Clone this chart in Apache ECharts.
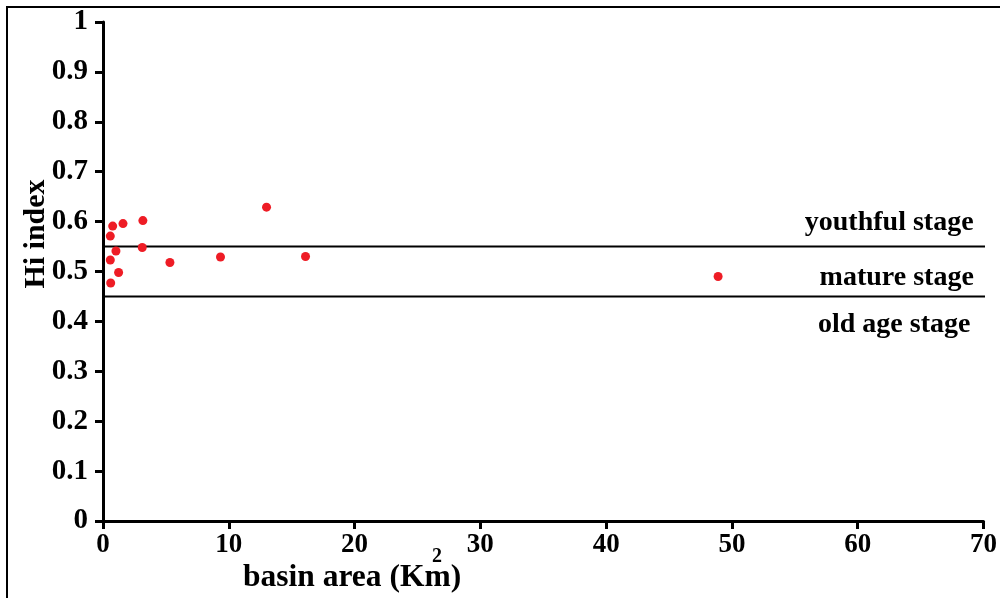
<!DOCTYPE html>
<html>
<head>
<meta charset="utf-8">
<style>
  html, body { margin: 0; padding: 0; background: #fff; }
  #chart { width: 1000px; height: 598px; }
</style>
<script src="https://cdn.jsdelivr.net/npm/echarts@6/dist/echarts.min.js"></script>
</head>
<body>
<div id="chart"></div>
<script>
// basin area (km2) and hypsometric integral of each sub-basin
var basinArea = [0.77, 1.59, 3.17, 13.0, 0.58, 3.12, 1.03, 0.58, 5.32, 9.34, 16.1, 1.24, 0.61, 48.9];
var hiIndex = [0.591, 0.596, 0.602, 0.629, 0.571, 0.548, 0.541, 0.523, 0.518, 0.529, 0.530, 0.498, 0.477, 0.490];

// stage limits and labels
var stageLimits = [0.55, 0.45];
var stageNames = ['youthful stage', 'mature stage', 'old age stage'];
var stageLabelPos = [[62.5, 0.597], [63.1, 0.487], [62.9, 0.393]];

var FONT = '"Liberation Serif", "Times New Roman", serif';

var points = basinArea.map(function (x, i) { return [x, hiIndex[i]]; });

var series = [{
    type: 'scatter',
    data: points,
    symbolSize: 9,
    itemStyle: { color: '#ee1c25', opacity: 1 },
    z: 5
}];

stageLimits.forEach(function (v) {
    series.push({
        type: 'line',
        data: [[0, v], [70.4, v]],
        symbol: 'none',
        lineStyle: { color: '#000', width: 2 },
        silent: true,
        clip: false
    });
});

series.push({
    type: 'scatter',
    data: stageLabelPos.map(function (p, i) { return { value: p, name: stageNames[i] }; }),
    symbolSize: 0,
    silent: true,
    itemStyle: { opacity: 1 },
    label: {
        show: true,
        position: 'inside',
        formatter: '{b}',
        color: '#000',
        opacity: 1,
        fontFamily: FONT,
        fontWeight: 'bold',
        fontSize: 28
    }
});

var axisLabelStyle = { color: '#000', fontFamily: FONT, fontWeight: 'bold' };

var chart = echarts.init(document.getElementById('chart'));
chart.setOption({
    animation: false,
    backgroundColor: '#fff',
    grid: { left: 103, right: 15, top: 22, bottom: 77 },
    xAxis: {
        type: 'value',
        min: 0, max: 70, interval: 10,
        splitLine: { show: false },
        axisLine: { lineStyle: { color: '#000', width: 3 } },
        axisTick: { length: 8, lineStyle: { color: '#000', width: 3 } },
        axisLabel: Object.assign({ margin: 11, fontSize: 27 }, axisLabelStyle)
    },
    yAxis: {
        type: 'value',
        min: 0, max: 1, interval: 0.1,
        splitLine: { show: false },
        axisLine: { lineStyle: { color: '#000', width: 3 } },
        axisTick: { length: 8, lineStyle: { color: '#000', width: 3 } },
        axisLabel: Object.assign({ margin: 15, fontSize: 29 }, axisLabelStyle)
    },
    graphic: [
        {
            type: 'rect',
            shape: { x: 7, y: 7, width: 1000, height: 600 },
            style: { fill: 'none', stroke: '#000', lineWidth: 2 },
            silent: true
        },
        {
            type: 'text',
            x: 36, y: 234,
            rotation: Math.PI / 2,
            style: {
                text: 'Hi index',
                fill: '#000',
                font: 'bold 30px ' + FONT,
                align: 'center',
                verticalAlign: 'middle'
            }
        },
        {
            type: 'text',
            x: 243, y: 578,
            style: {
                text: 'basin area (Km)',
                fill: '#000',
                font: 'bold 31.5px ' + FONT,
                align: 'left',
                verticalAlign: 'middle'
            }
        },
        {
            type: 'text',
            x: 437, y: 557,
            style: {
                text: '2',
                fill: '#000',
                font: 'bold 20px ' + FONT,
                align: 'center',
                verticalAlign: 'middle'
            }
        }
    ],
    series: series
});
</script>
</body>
</html>
